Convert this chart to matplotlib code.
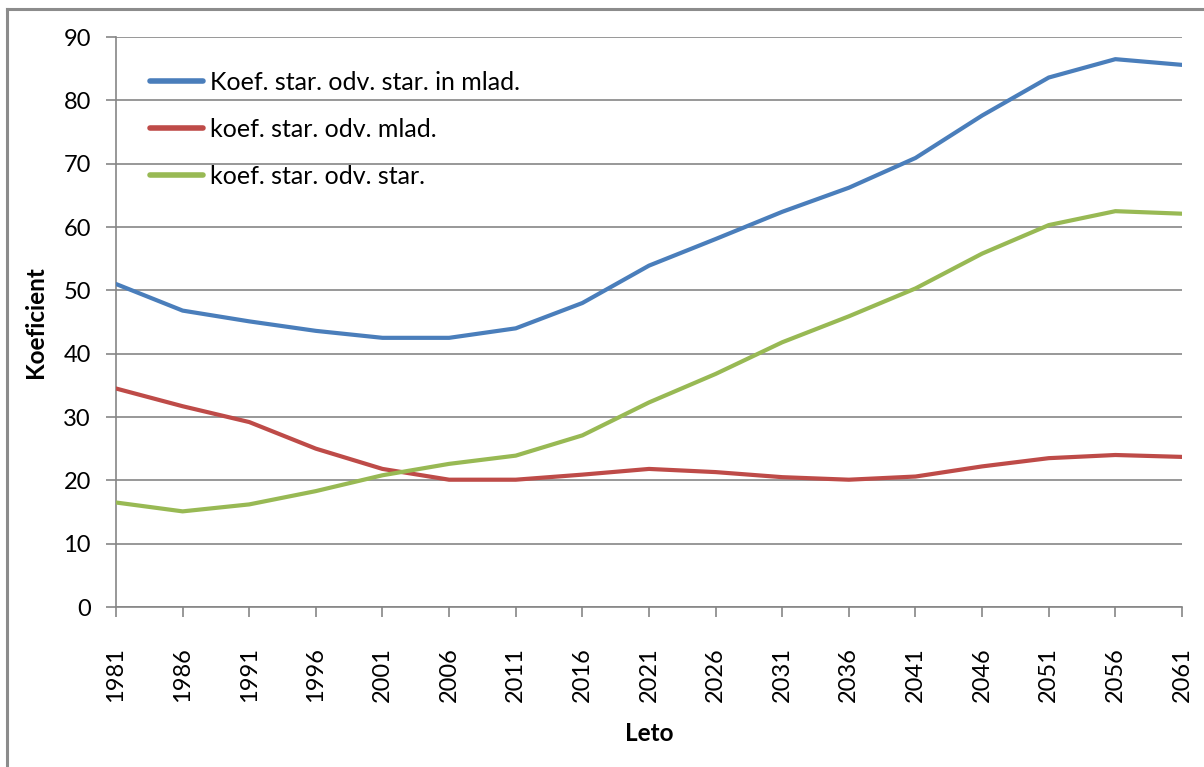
import matplotlib
matplotlib.use("Agg")
import matplotlib.pyplot as plt
from matplotlib.lines import Line2D

plt.rcParams['font.family'] = ['Lato', 'DejaVu Sans']

years = [1981, 1986, 1991, 1996, 2001, 2006, 2011, 2016, 2021,
         2026, 2031, 2036, 2041, 2046, 2051, 2056, 2061]

total_ratio = [51.0, 46.8, 45.1, 43.6, 42.5, 42.5, 44.0, 48.0, 53.9,
               58.1, 62.4, 66.2, 70.9, 77.6, 83.6, 86.5, 85.6]
young_ratio = [34.5, 31.7, 29.2, 25.0, 21.8, 20.1, 20.1, 20.9, 21.8,
               21.3, 20.5, 20.1, 20.6, 22.2, 23.5, 24.0, 23.7]
old_ratio = [16.5, 15.1, 16.2, 18.3, 20.8, 22.6, 23.9, 27.1, 32.3,
             36.8, 41.8, 45.9, 50.3, 55.8, 60.3, 62.5, 62.1]

series_labels = ["Koef. star. odv. star. in mlad.",
                 "koef. star. odv. mlad.",
                 "koef. star. odv. star."]
series_colors = ["#4A7EBB", "#BE4B48", "#98B954"]

y_ticks = list(range(0, 91, 10))

W, H = 1204, 767
fig = plt.figure(figsize=(W / 100, H / 100), dpi=100)
ax = fig.add_axes([116 / W, 1 - 607 / H, (1182 - 116) / W, (607 - 37) / H])

for vals, lab, col in zip([total_ratio, young_ratio, old_ratio], series_labels, series_colors):
    ax.plot(years, vals, color=col, lw=3.0, label=lab, solid_joinstyle='round',
            solid_capstyle='round', zorder=3)

grid_col = "#868686"
ax.set_xlim(years[0], years[-1])
ax.set_ylim(0, 90)
ax.set_yticks(y_ticks)
ax.set_xticks(years)
ax.set_xticklabels([str(y) for y in years], rotation=90)
ax.yaxis.grid(True, color=grid_col, lw=1.2)
ax.set_axisbelow(True)

for side in ("top", "right"):
    ax.spines[side].set_visible(False)
for side in ("left", "bottom"):
    ax.spines[side].set_color(grid_col)
    ax.spines[side].set_linewidth(1.2)

ax.tick_params(axis='both', colors=grid_col, length=7, width=1.2,
               labelcolor="#000000", labelsize=17)
ax.tick_params(axis='y', pad=11)
ax.tick_params(axis='x', pad=22)

ax.set_xlabel("Leto", fontsize=17.5, fontweight='bold', labelpad=14)
ax.set_ylabel("Koeficient", fontsize=17.5, fontweight='bold', labelpad=12)

leg = ax.legend(loc='upper left', bbox_to_anchor=(150 / W, 1 - 71 / H),
                bbox_transform=fig.transFigure, frameon=False,
                fontsize=18, handlelength=2.1, handletextpad=0.3,
                labelspacing=0.95, borderpad=0, borderaxespad=0)
for h in leg.get_lines():
    h.set_linewidth(4)

# outer chart border (left and top edges)
border = "#8C8C8C"
fig.add_artist(Line2D([7 / W, 7 / W], [0, 1 - 9 / H], color=border, lw=2.2,
                      transform=fig.transFigure))
fig.add_artist(Line2D([7 / W, 1], [1 - 9 / H, 1 - 9 / H], color=border, lw=2.2,
                      transform=fig.transFigure))

fig.savefig("out.png", dpi=100)
